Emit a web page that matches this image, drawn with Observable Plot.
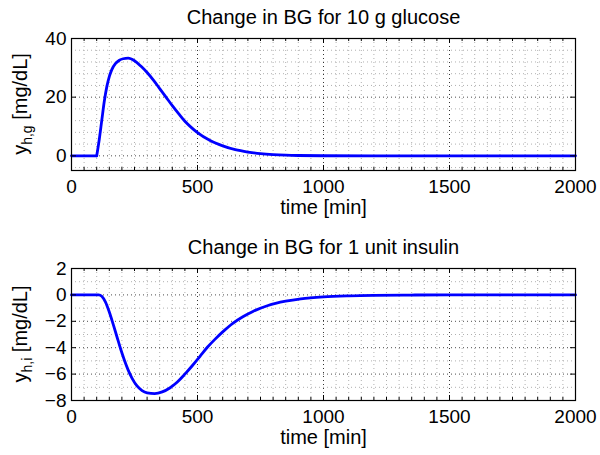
<!DOCTYPE html>
<html><head><meta charset="utf-8">
<script src="https://cdn.jsdelivr.net/npm/d3@7"></script>
<script src="https://cdn.jsdelivr.net/npm/@observablehq/plot@0.6"></script>
<style>
body{margin:0;background:#fff;}
#wrap{position:relative;width:600px;height:455px;background:#fff;}
#wrap svg{position:absolute;left:0;}
</style></head><body><div id="wrap"></div>
<script>
// Glucose response (10 g glucose)
const timeG = [0,100,110,120,130,140,150,160,175,190,205,225,250,275,300,325,350,375,400,425,450,475,500,550,600,650,700,750,800,850,900,1000,1200,2000];
const bgG   = [0,0,5.5,12,18.5,23.5,27,29.4,31.5,32.6,33.1,33.3,32.4,30.6,28.4,25.8,22.9,20.0,17.1,14.4,11.8,9.7,7.9,5.2,3.4,2.1,1.3,0.75,0.42,0.22,0.11,0.03,0,0];
// Insulin response (1 unit insulin)
const timeI = [0,108,120,135,150,165,180,195,210,225,240,260,280,300,330,360,390,420,450,480,510,540,570,600,640,680,720,780,850,910,1000,1100,1200,1350,1500,2000];
const bgI   = [0,0,-0.1,-0.55,-1.3,-2.2,-3.15,-4.1,-4.95,-5.7,-6.3,-6.9,-7.25,-7.42,-7.48,-7.35,-7.05,-6.6,-6.0,-5.35,-4.65,-3.95,-3.35,-2.8,-2.15,-1.65,-1.25,-0.8,-0.48,-0.3,-0.15,-0.07,-0.03,-0.01,0,0];

const xTicks = [0,500,1000,1500,2000];
const xMinor = d3.range(0,2001,50);
const yTicksG = [0,20,40];
const yMinorG = [-4,4,8,12,16,24,28,32,36];
const yTicksI = [-8,-6,-4,-2,0,2];
const yMinorI = [-7,-5,-3,-1,1];

const titleG = "Change in BG for 10 g glucose";
const titleI = "Change in BG for 1 unit insulin";
const xLabel = "time [min]";

const FONT = "Arial, 'Liberation Sans', Helvetica, sans-serif";
const W = 600, H = 225, MT = 38, MB = 55, ML = 71, MR = 25;
const FW = W - ML - MR, FH = H - MT - MB;

function panel({t, v, yDomain, yTicks, yMinor, title, sub, onset, top}) {
  const rows = t.map((d, i) => ({t: d, v: v[i], seg: (onset != null && d < onset) ? 0 : 1}));
  if (onset != null) {
    const j = rows.findIndex(r => r.t === onset);
    rows.splice(j, 0, {t: rows[j].t, v: rows[j].v, seg: 0});
  }
  const chart = Plot.plot({
    width: W, height: H,
    marginTop: MT, marginBottom: MB, marginLeft: ML, marginRight: MR,
    style: {fontFamily: FONT, fontSize: "19px", color: "black", background: "white", overflow: "visible"},
    x: {domain: [0, 2000], label: null},
    y: {domain: yDomain, label: null},
    marks: [
      Plot.ruleX(xMinor, {stroke: "#b0b0b0", strokeDasharray: "1,3"}),
      Plot.ruleY(yMinor, {stroke: "#b0b0b0", strokeDasharray: "1,3"}),
      Plot.ruleX(xTicks, {stroke: "#000", strokeDasharray: "1,3", strokeOpacity: 0.7}),
      Plot.ruleY(yTicks, {stroke: "#000", strokeDasharray: "1,3", strokeOpacity: 0.7}),
      Plot.line(rows, {x: "t", y: "v", z: "seg", stroke: "#0000ff", strokeWidth: 2.8, curve: "monotone-x"}),
      Plot.tickX(xMinor, {x: d => d, insetTop: FH - 3, stroke: "black"}),
      Plot.tickX(xMinor, {x: d => d, insetBottom: FH - 3, stroke: "black"}),
      Plot.tickX(xTicks, {x: d => d, insetTop: FH - 5, stroke: "black"}),
      Plot.tickX(xTicks, {x: d => d, insetBottom: FH - 5, stroke: "black"}),
      Plot.tickY(yTicks, {y: d => d, insetRight: FW - 5, stroke: "black"}),
      Plot.tickY(yTicks, {y: d => d, insetLeft: FW - 5, stroke: "black"}),
      Plot.frame({stroke: "black", strokeWidth: 1.2}),
      Plot.axisX(xTicks, {tickSize: 0, tickPadding: 9, fontSize: 19, tickFormat: "d"}),
      Plot.axisY(yTicks, {tickSize: 0, tickPadding: 5, fontSize: 19}),
      Plot.text([title], {frameAnchor: "top", dy: -21, fontSize: 20, lineAnchor: "middle"}),
      Plot.text([xLabel], {frameAnchor: "bottom", dy: 37, fontSize: 20, lineAnchor: "middle"})
    ]
  });
  chart.style.top = top + "px";
  const svg = d3.select(chart);
  const lab = svg.append("text")
    .attr("transform", `translate(27,${MT + FH / 2}) rotate(-90)`)
    .attr("text-anchor", "middle")
    .attr("font-size", 20)
    .attr("font-family", FONT)
    .attr("fill", "black");
  lab.append("tspan").text("y");
  lab.append("tspan").attr("font-size", 14).attr("dy", 5).text(sub);
  lab.append("tspan").attr("dy", -5).text(" [mg/dL]");
  return chart;
}

const wrap = document.getElementById("wrap");
wrap.appendChild(panel({t: timeG, v: bgG, yDomain: [-5, 40], yTicks: yTicksG, yMinor: yMinorG, title: titleG, sub: "h,g", onset: 100, top: 0}));
wrap.appendChild(panel({t: timeI, v: bgI, yDomain: [-8, 2], yTicks: yTicksI, yMinor: yMinorI, title: titleI, sub: "h,i", onset: null, top: 230}));
</script>
</body></html>
